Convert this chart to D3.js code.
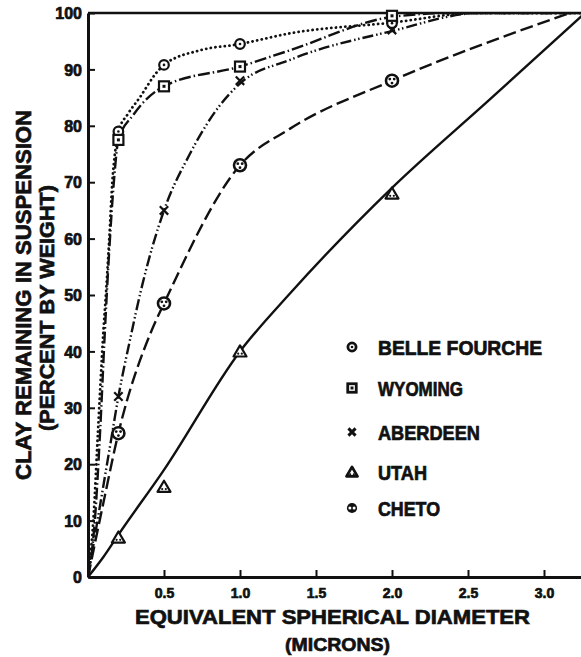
<!DOCTYPE html>
<html>
<head>
<meta charset="utf-8">
<script src="https://cdn.jsdelivr.net/npm/d3@7"></script>
<style>
  body { margin: 0; background: #fff; }
  svg text { font-family: "Liberation Sans", Arial, sans-serif; font-weight: bold; fill: #111; stroke: #111; stroke-width: 0.7; }
  .axis path, .axis line { stroke: #111; }
</style>
</head>
<body>
<script>
(function(){

    //measured points (diameter in microns, percent remaining)
    var diameters = [0.2, 0.5, 1.0, 2.0];
    var belleFourche = [79, 90.8, 94.5, 98.2];
    var wyoming = [77.5, 87, 90.5, 99.5];
    var aberdeen = [32, 65, 88, 97];
    var utah = [7, 16, 40, 68];
    var cheto = [25.5, 48.5, 73, 88];

    //hand drawn curves [diameter, percent]
    var belleCurve = [[0,0],[0.035,10],[0.066,26],[0.1,43],[0.12,51],[0.14,60],[0.16,70],[0.18,75.7],[0.2,79],[0.26,82],[0.34,85],[0.45,89.4],[0.5,90.8],[0.74,93.4],[1.0,94.5],[1.33,96.4],[2.0,98.3],[2.56,100],[3.3,100]];
    var wyomingCurve = [[0,0],[0.045,10],[0.08,26],[0.11,43],[0.14,58],[0.17,70],[0.2,77.5],[0.3,82],[0.5,87],[1.0,90.5],[1.33,93.4],[2.0,99.3],[2.4,100],[3.3,100]];
    var aberdeenCurve = [[0,0],[0.05,8],[0.1,16],[0.15,24],[0.2,32],[0.28,42.5],[0.35,51],[0.5,65],[0.67,75],[0.85,83],[1.0,87.5],[1.33,91.7],[2.0,96.8],[2.58,100],[3.3,100]];
    var utahCurve = [[0,0],[0.1,3.5],[0.2,7.5],[0.5,19],[1.0,40],[1.33,50.3],[2.0,69],[2.64,84.6],[3.27,100]];
    var chetoCurve = [[0,0],[0.1,13],[0.2,25.5],[0.42,43.8],[0.5,48.5],[1.0,73],[1.33,79.5],[2.0,88],[3.17,100]];

    var xTicks = [0.5, 1.0, 1.5, 2.0, 2.5, 3.0];
    var yTicks = [0, 10, 20, 30, 40, 50, 60, 70, 80, 90, 100];

    var names = ["BELLE FOURCHE", "WYOMING", "ABERDEEN", "UTAH", "CHETO"];
    var markers = ["circleDot", "square", "cross", "triangle", "face"];
    var dashes = ["0.1,4.6", "12,3,1.5,3", "11,3,1.5,2.6,1.5,3", null, "13,5"];

    var width = 581,
        height = 657;

    var x = d3.scaleLinear().domain([0, 3.25]).range([88, 582]);
    var y = d3.scaleLinear().domain([0, 100]).range([577, 13]);

    var svg = d3.select("body")
        .append("svg")
        .attr("width", width)
        .attr("height", height);

    svg.append("clipPath")
        .attr("id", "plotClip")
        .append("rect")
        .attr("x", 88).attr("y", 12)
        .attr("width", 500).attr("height", 566);

    //curves
    var line = d3.line()
        .x(function(d){ return x(d[0]); })
        .y(function(d){ return y(d[1]); })
        .curve(d3.curveMonotoneX);

    var curves = [belleCurve, wyomingCurve, aberdeenCurve, utahCurve, chetoCurve];
    var lines = svg.append("g").attr("clip-path", "url(#plotClip)");
    curves.forEach(function(c, i){
        lines.append("path")
            .datum(c)
            .attr("d", line)
            .attr("fill", "none")
            .attr("stroke", "#111")
            .attr("stroke-width", i == 0 ? 2.8 : 2.4)
            .attr("stroke-linecap", i == 0 ? "round" : "butt")
            .attr("stroke-dasharray", dashes[i]);
    });

    //frame and axes
    svg.append("line")
        .attr("x1", x(0)).attr("x2", width)
        .attr("y1", y(100)).attr("y2", y(100))
        .attr("stroke", "#111").attr("stroke-width", 2.5);

    var yAxis = d3.axisLeft(y)
        .tickValues(yTicks)
        .tickSizeInner(-7)
        .tickSizeOuter(0)
        .tickPadding(6);

    svg.append("g")
        .attr("class", "axis")
        .attr("transform", "translate(" + x(0) + ",0)")
        .call(yAxis)
        .call(function(g){
            g.select(".domain").attr("stroke-width", 3);
            g.selectAll(".tick line").attr("stroke-width", 2);
            g.selectAll(".tick text").attr("font-size", 16).attr("dy", "0.36em").attr("font-family", null);
        });

    var xAxis = d3.axisBottom(x)
        .tickValues(xTicks)
        .tickFormat(d3.format(".1f"))
        .tickSizeInner(-7)
        .tickSizeOuter(0)
        .tickPadding(11);

    svg.append("g")
        .attr("class", "axis")
        .attr("transform", "translate(0," + y(0) + ")")
        .call(xAxis)
        .call(function(g){
            g.select(".domain").attr("stroke-width", 3);
            g.selectAll(".tick line").attr("stroke-width", 2);
            g.selectAll(".tick text").attr("font-size", 14).attr("font-family", null);
        });

    //point markers, s is a scale, legend markers are drawn heavier
    function drawMarker(g, type, cx, cy, s, heavy){
        var m = g.append("g").attr("transform", "translate(" + cx + "," + cy + ")");
        var sw = heavy ? 2.8 : 2.2;
        if (type == "circleDot"){
            m.append("circle").attr("r", 4.8 * s).attr("fill", "#fff").attr("stroke", "#111").attr("stroke-width", sw);
            m.append("circle").attr("r", 1.3).attr("fill", "#111");
        } else if (type == "square"){
            var h = 5 * s;
            m.append("rect").attr("x", -h).attr("y", -h).attr("width", 2 * h).attr("height", 2 * h)
                .attr("fill", "#fff").attr("stroke", "#111").attr("stroke-width", sw);
            m.append("rect").attr("x", -1.5).attr("y", -1.5).attr("width", 3).attr("height", 3).attr("fill", "#111");
        } else if (type == "cross"){
            var k = 4.2 * s;
            m.append("path").attr("d", "M" + -k + "," + -k + "L" + k + "," + k + "M" + k + "," + -k + "L" + -k + "," + k)
                .attr("stroke", "#111").attr("stroke-width", heavy ? 3 : 2.2);
        } else if (type == "triangle"){
            var w = 6.5 * s, t = 6 * s;
            m.append("path").attr("d", "M0," + -t + "L" + w + "," + (t * 0.85) + "L" + -w + "," + (t * 0.85) + "Z")
                .attr("fill", "#fff").attr("stroke", "#111").attr("stroke-width", sw).attr("stroke-linejoin", "round");
            m.append("circle").attr("cx", -1.8).attr("cy", 2.3).attr("r", 1.1).attr("fill", "#111");
            m.append("circle").attr("cx", 1.8).attr("cy", 2.3).attr("r", 1.1).attr("fill", "#111");
        } else if (type == "face"){
            if (heavy){
                m.append("circle").attr("r", 6 * s).attr("fill", "#111");
                m.append("circle").attr("cx", -2.1).attr("cy", 0).attr("r", 1.5).attr("fill", "#fff");
                m.append("circle").attr("cx", 2.1).attr("cy", 0).attr("r", 1.5).attr("fill", "#fff");
            } else {
                m.append("circle").attr("r", 6 * s).attr("fill", "#fff").attr("stroke", "#111").attr("stroke-width", 2.6);
                m.append("circle").attr("cx", -2.2).attr("cy", -1.6).attr("r", 1.4).attr("fill", "#111");
                m.append("circle").attr("cx", 2.2).attr("cy", -1.6).attr("r", 1.4).attr("fill", "#111");
                m.append("circle").attr("cx", 0).attr("cy", 2.4).attr("r", 1.4).attr("fill", "#111");
            }
        }
    }

    var series = [belleFourche, wyoming, aberdeen, utah, cheto];
    var pts = svg.append("g");
    series.forEach(function(vals, i){
        vals.forEach(function(v, j){
            drawMarker(pts, markers[i], x(diameters[j]), y(v), 1, false);
        });
    });

    //legend
    var legendY = [347, 388, 432, 472, 508];
    var legendW = [164, 85, 102, 49, 62];
    var legend = svg.append("g");
    names.forEach(function(n, i){
        drawMarker(legend, markers[i], 352, legendY[i], 0.85, true);
        legend.append("text")
            .attr("x", 378)
            .attr("y", legendY[i] + 7.5)
            .attr("font-size", 20)
            .attr("textLength", legendW[i])
            .attr("lengthAdjust", "spacingAndGlyphs")
            .text(n);
    });

    //axis titles
    svg.append("text")
        .attr("x", 135).attr("y", 624)
        .attr("font-size", 21)
        .attr("textLength", 395)
        .attr("lengthAdjust", "spacingAndGlyphs")
        .text("EQUIVALENT SPHERICAL DIAMETER");

    svg.append("text")
        .attr("x", 285).attr("y", 651)
        .attr("font-size", 19)
        .attr("textLength", 105)
        .attr("lengthAdjust", "spacingAndGlyphs")
        .text("(MICRONS)");

    svg.append("text")
        .attr("transform", "translate(31,480) rotate(-90)")
        .attr("font-size", 22)
        .attr("textLength", 370)
        .attr("lengthAdjust", "spacingAndGlyphs")
        .text("CLAY REMAINING IN SUSPENSION");

    svg.append("text")
        .attr("transform", "translate(54,431) rotate(-90)")
        .attr("font-size", 21)
        .attr("textLength", 246)
        .attr("lengthAdjust", "spacingAndGlyphs")
        .text("(PERCENT BY WEIGHT)");

})();
</script>
</body>
</html>
